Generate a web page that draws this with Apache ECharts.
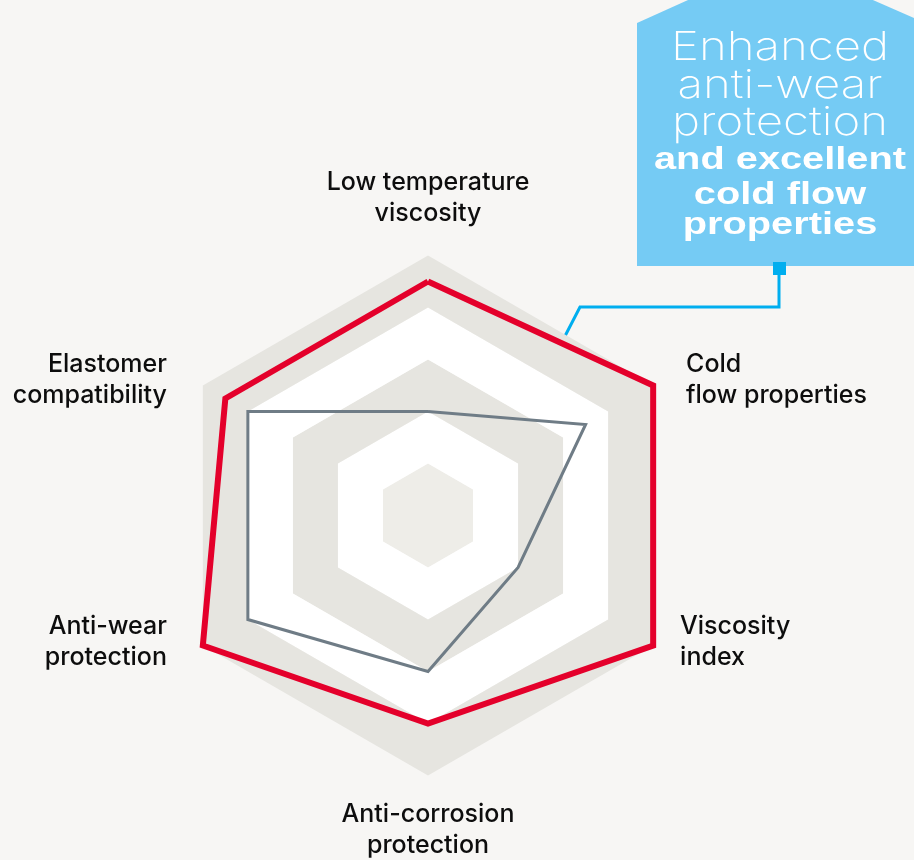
<!DOCTYPE html>
<html><head><meta charset="utf-8">
<script src="https://cdn.jsdelivr.net/npm/echarts@6/dist/echarts.min.js"></script>
<style>html,body{margin:0;padding:0;background:#f7f6f4}#chart{width:914px;height:860px}</style>
</head><body><div id="chart"></div>
<script>
// ---- data ----
const indicatorNames = ['Low temperature\nviscosity', 'Elastomer\ncompatibility', 'Anti-wear\nprotection', 'Anti-corrosion\nprotection', 'Viscosity\nindex', 'Cold\nflow properties'];
const indicatorMax = [5, 5, 5, 5, 5, 5];
const enhancedValues = [4.5, 4.5, 5, 4, 5, 5];
const standardValues = [2, 4, 4, 3, 2, 3.5];
const calloutLight = ['Enhanced', 'anti-wear', 'protection'];
const calloutBold = ['and excellent', 'cold flow', 'properties'];

// ---- label layout (styling only) ----
const labelLayout = [
  { pre: 0, post: 4, padL: 0, padR: 0 },
  { pre: 11, post: 0, padL: 0, padR: 16 },
  { pre: 0, post: 31, padL: 0, padR: 16 },
  { pre: 0, post: 0, padL: 0, padR: 0 },
  { pre: 0, post: 31, padL: 7, padR: 0 },
  { pre: 11, post: 0, padL: 13, padR: 0 }
];
const labelFont = 'Inter, "Liberation Sans", Arial, sans-serif';
const rich = {};
labelLayout.forEach((l, i) => {
  rich['t' + i] = { fontSize: 25, fontWeight: 500, lineHeight: 31, fontFamily: labelFont, color: '#0d0d0d', padding: [0, l.padR, 0, l.padL] };
  if (l.pre) rich['s' + l.pre] = { fontSize: 1, lineHeight: l.pre };
  if (l.post) rich['s' + l.post] = { fontSize: 1, lineHeight: l.post };
});

const chart = echarts.init(document.getElementById('chart'));

const mctx = document.createElement('canvas').getContext('2d');
function widthOf(t, font) { mctx.font = font; return mctx.measureText(t).width; }
const lightFont = '200 40px Inter, "Liberation Sans", sans-serif';
const boldFont = 'bold 31px "Liberation Sans", Arial, sans-serif';
const lightScale = 216 / widthOf('protection', lightFont);
const boldScale = 252 / widthOf('and excellent', boldFont);
const lightY = [48, 85.5, 123];
const boldY = [160, 195, 225];

const graphics = [
  { type: 'polygon', shape: { points: [[637, 266], [637, 23], [779, -41], [921, 21], [921, 266]] }, style: { fill: '#75cbf4' } },
  { type: 'polyline', shape: { points: [[779, 275], [779, 307], [580, 307], [564, 338]] }, style: { stroke: '#00aeef', lineWidth: 3, fill: null } },
  { type: 'rect', shape: { x: 773, y: 262, width: 13, height: 13 }, style: { fill: '#00aeef' } }
];
calloutLight.forEach((t, i) => graphics.push({
  type: 'text', x: 780, y: lightY[i], scaleX: lightScale,
  style: { text: t, font: lightFont, fill: '#ffffff', align: 'center', verticalAlign: 'middle', textAlign: 'center', textVerticalAlign: 'middle' }
}));
calloutBold.forEach((t, i) => graphics.push({
  type: 'text', x: 780, y: boldY[i], scaleX: boldScale,
  style: { text: t, font: boldFont, fill: '#ffffff', align: 'center', verticalAlign: 'middle', textAlign: 'center', textVerticalAlign: 'middle' }
}));

chart.setOption({
  backgroundColor: '#f7f6f4',
  animation: false,
  radar: {
    center: [428, 515.5],
    radius: 260,
    shape: 'polygon',
    splitNumber: 5,
    startAngle: 90,
    indicator: indicatorNames.map((n, i) => ({ name: n, min: 0, max: indicatorMax[i] })),
    axisNameGap: 23,
    axisName: {
      color: '#0d0d0d',
      fontSize: 25,
      fontFamily: labelFont,
      rich: rich,
      formatter: function (name) {
        const i = indicatorNames.indexOf(name);
        const l = labelLayout[i];
        let s = '';
        if (l.pre) s += '{s' + l.pre + '| }\n';
        s += '{t' + i + '|' + name + '}';
        if (l.post) s += '\n{s' + l.post + '| }';
        return s;
      }
    },
    splitLine: { show: false },
    axisLine: { show: false },
    axisTick: { show: false },
    axisLabel: { show: false },
    splitArea: { show: true, areaStyle: { color: ['#eeede8', '#ffffff', '#e6e5e0', '#ffffff', '#e6e5e0'] } }
  },
  series: [{
    type: 'radar',
    symbol: 'none',
    silent: true,
    data: [
      { name: 'Standard', value: standardValues, lineStyle: { color: '#6f7c86', width: 3, join: 'miter' } },
      { name: 'Enhanced', value: enhancedValues, lineStyle: { color: '#e4002b', width: 6, join: 'miter' } }
    ]
  }],
  graphic: graphics
});
</script></body></html>
